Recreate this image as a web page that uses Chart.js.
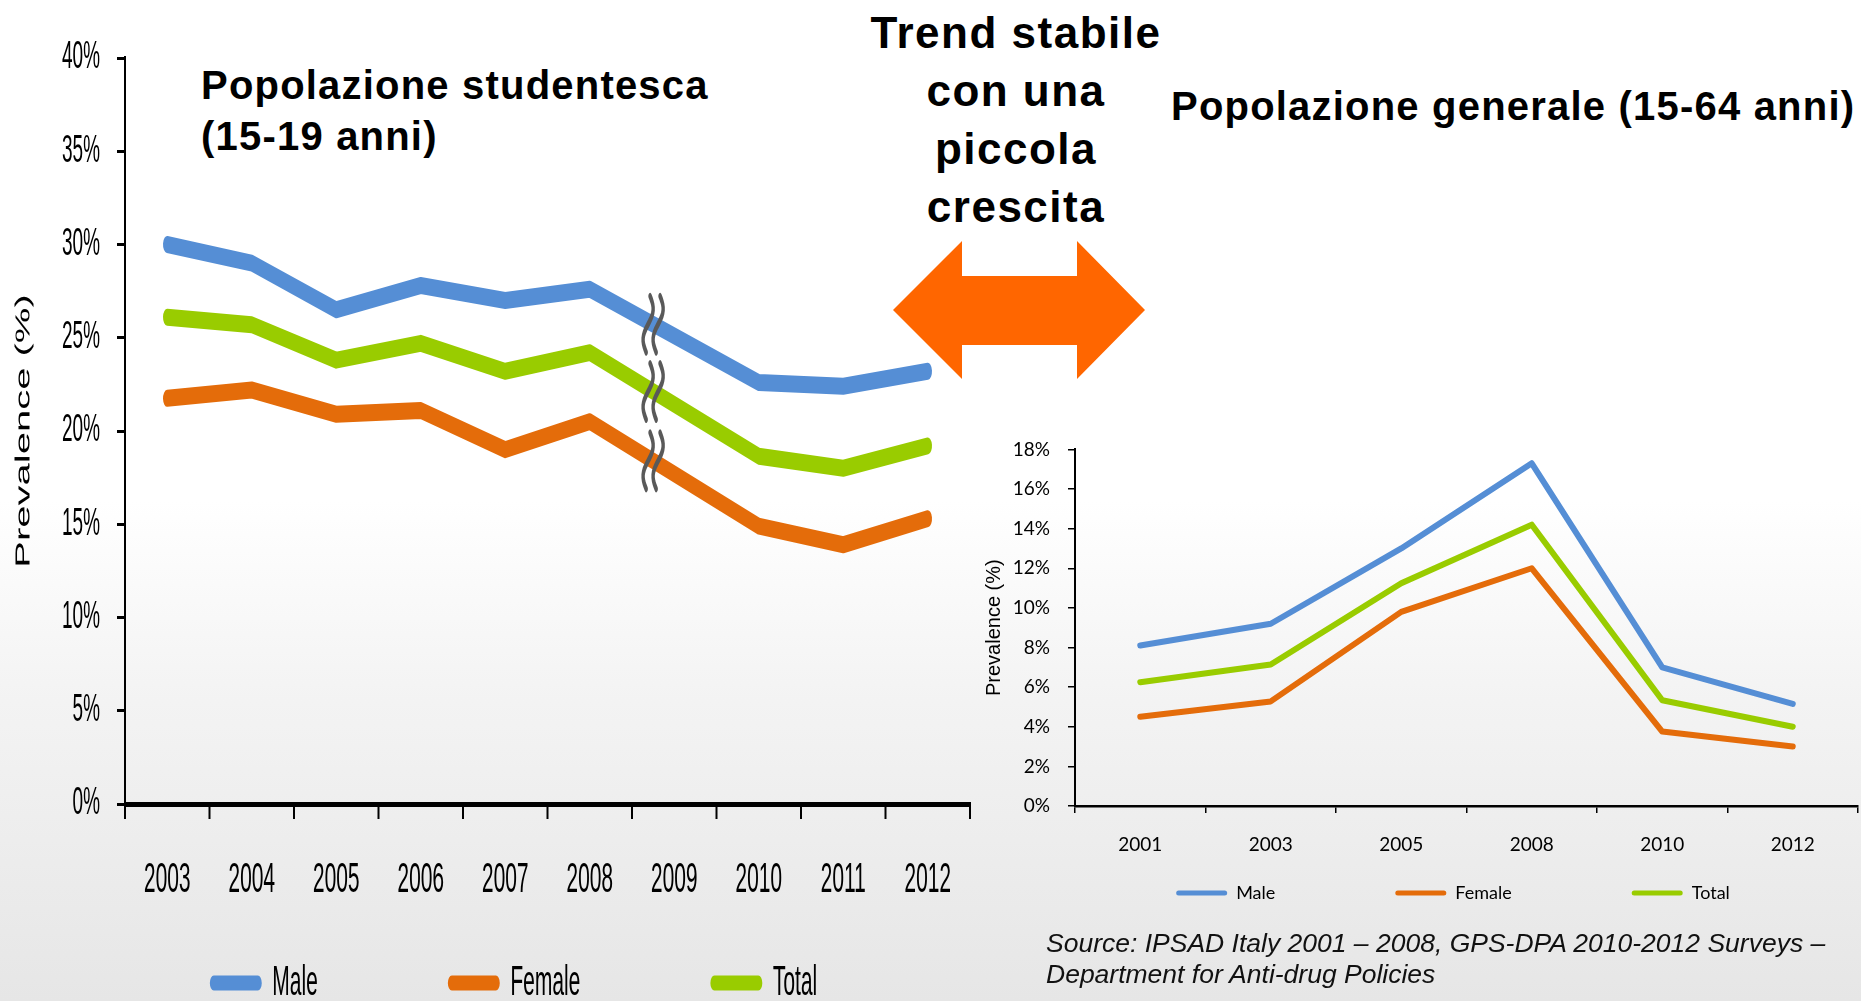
<!DOCTYPE html>
<html>
<head>
<meta charset="utf-8">
<script src="https://cdn.jsdelivr.net/npm/chart.js@4.4.1/dist/chart.umd.min.js"></script>
<style>
  html, body { margin:0; padding:0; width:1861px; height:1001px; overflow:hidden; }
  body { position:relative; background: linear-gradient(180deg, #ffffff 0%, #ffffff 50%, #f3f3f3 70%, #e6e6e6 100%); font-family: "Liberation Sans", Arial, sans-serif; }
  .t { position:absolute; font-weight:bold; color:#000; white-space:nowrap; }
  canvas { position:absolute; }
  #left { transform: scaleY(2); transform-origin: 0 0; }
</style>
</head>
<body>
<div class="t" style="left:201px; top:60px; font-size:40px; line-height:51px; letter-spacing:1.2px;">Popolazione studentesca<br>(15-19 anni)</div>
<div class="t" style="left:816px; top:4px; width:400px; text-align:center; font-size:44px; line-height:58px; letter-spacing:1.5px;">Trend stabile<br>con una<br>piccola<br>crescita</div>
<div class="t" style="left:1171px; top:81px; font-size:40px; line-height:51px; letter-spacing:1.2px;">Popolazione generale (15-64 anni)</div>
<svg style="position:absolute; left:0; top:0;" width="1861" height="1001">
  <polygon points="893,310 962,241 962,276 1077,276 1077,241 1145,310 1077,379 1077,345 962,345 962,379" fill="#FF6600"/>
</svg>
<canvas id="left" width="980" height="618" style="left:0; top:0; width:980px; height:618px;"></canvas>
<canvas id="right" width="901" height="581" style="left:960px; top:420px; width:901px; height:581px;"></canvas>
<div style="position:absolute; left:1046px; top:928px; font-size:26.5px; line-height:31px; font-style:italic; color:#111; white-space:nowrap;">Source: IPSAD Italy 2001 – 2008, GPS-DPA 2010-2012 Surveys –<br>Department for Anti-drug Policies</div>

<script>
// ---------- DATA ----------
const studYears   = ['2003','2004','2005','2006','2007','2008','2009','2010','2011','2012'];
const studMale    = [30.0, 29.0, 26.5, 27.8, 27.0, 27.6, null, 22.6, 22.4, 23.2];
const studFemale  = [21.75, 22.2, 20.9, 21.1, 19.0, 20.5, null, 14.9, 13.9, 15.3];
const studTotal   = [26.1, 25.7, 23.8, 24.7, 23.2, 24.2, null, 18.65, 18.0, 19.2];

const genYears    = ['2001','2003','2005','2008','2010','2012'];
const genMale     = [8.1, 9.2, 13.0, 17.3, 7.0, 5.15];
const genFemale   = [4.5, 5.28, 9.8, 12.0, 3.76, 3.0];
const genTotal    = [6.25, 7.14, 11.24, 14.2, 5.34, 4.0];

const seriesNames = ['Male', 'Female', 'Total'];
const studYTicks  = { min: 0, max: 40, step: 5 };
const genYTicks   = { min: 0, max: 18, step: 2 };
const axisTitle   = 'Prevalence (%)';

// ---------- STYLE ----------
const COL = { male:'#558ED5', female:'#E46C0A', total:'#99CC00' };
const ARIAL = '"Liberation Sans", Arial, sans-serif';
const CAL = 'Lato, "Open Sans", sans-serif';

const legendShift = {
  id: 'legendShift',
  afterLayout(chart, args, opts) {
    const l = chart.legend; if (!l) return;
    l.left += opts.dx; l.right += opts.dx; l.top += opts.dy; l.bottom += opts.dy;
  }
};
function noStrokeLabels(radius) {
  return function(chart) {
    const items = Chart.defaults.plugins.legend.labels.generateLabels(chart);
    items.forEach(it => { it.lineWidth = 0; it.borderRadius = radius; it.fillStyle = it.strokeStyle; });
    return items;
  };
}
function lineDs(label, data, color, width) {
  return { label, data, borderColor: color, backgroundColor: color, borderWidth: width,
           pointRadius: 0, pointHoverRadius: 0, tension: 0, spanGaps: true,
           borderCapStyle: 'round', borderJoinStyle: 'round', fill: false };
}

// ---------- LEFT CHART (drawn in half-height space, stretched 2x vertically) ----------
const L_LEG_FONT = 21, L_LEG_PAD = 130;
const L_LEG_H = L_LEG_FONT + L_LEG_PAD + 10;
const L_X_H = 55;

const breakMarks = {
  id: 'breakMarks',
  afterDatasetsDraw(chart) {
    const x = chart.scales.x, y = chart.scales.y, ctx = chart.ctx;
    const gapIdx = studYears.indexOf('2009');
    const px = x.getPixelForValue(gapIdx - 0.25);
    [studMale, studTotal, studFemale].forEach(arr => {
      const v = arr[gapIdx - 1] + (arr[gapIdx + 1] - arr[gapIdx - 1]) * 0.375;
      const cy = y.getPixelForValue(v);
      ctx.save();
      ctx.strokeStyle = '#595959'; ctx.lineWidth = 3.4; ctx.lineCap = 'round';
      [-5, 5].forEach(o => {
        ctx.beginPath();
        for (let i = 0; i <= 20; i++) {
          const t = i / 20;
          const xx = px + o + 2 - 4 * t + 4 * Math.sin(t * Math.PI * 2);
          const yy = cy - 14 + 28 * t;
          if (i === 0) ctx.moveTo(xx, yy); else ctx.lineTo(xx, yy);
        }
        ctx.stroke();
      });
      ctx.restore();
    });
  }
};

new Chart(document.getElementById('left'), {
  type: 'line',
  data: {
    labels: studYears,
    datasets: [
      lineDs(seriesNames[0], studMale, COL.male, 8.5),
      lineDs(seriesNames[1], studFemale, COL.female, 8.5),
      lineDs(seriesNames[2], studTotal, COL.total, 8.5)
    ]
  },
  plugins: [legendShift, breakMarks],
  options: {
    responsive: false, animation: false, devicePixelRatio: 2,
    layout: { padding: { left: 0, top: 29, right: 10, bottom: 0 } },
    scales: {
      x: {
        offset: true,
        grid: { offset: true, drawOnChartArea: false, tickLength: 7.5, color: '#000', lineWidth: 2 },
        border: { color: '#000', width: 2.5 },
        ticks: { color: '#000', padding: 18, maxRotation: 0, autoSkip: false, font: { family: ARIAL, size: 21 } },
        afterFit(s) { s.height = L_X_H; }
      },
      y: {
        min: studYTicks.min, max: studYTicks.max,
        grid: { drawOnChartArea: false, tickLength: 8, color: '#000', lineWidth: 1.5 },
        border: { color: '#000', width: 2 },
        ticks: { stepSize: studYTicks.step, color: '#000', padding: 17, callback: v => v + '%',
                 font: { family: ARIAL, size: 19 } },
        title: { display: true, text: axisTitle, color: '#000', padding: { top: 12, bottom: 0 },
                 font: { family: ARIAL, size: 20 } },
        afterFit(s) { s.width = 125; }
      }
    },
    plugins: {
      legendShift: { dx: 28.5, dy: -106 },
      tooltip: { enabled: false },
      legend: {
        position: 'bottom',
        labels: { boxWidth: 52, boxHeight: 7.5, padding: L_LEG_PAD, color: '#000',
                  font: { family: ARIAL, size: L_LEG_FONT },
                  generateLabels: noStrokeLabels(4) }
      }
    }
  }
});

// ---------- RIGHT CHART ----------
const R_LEG_FONT = 18, R_LEG_PAD = 120;
const R_LEG_H = R_LEG_FONT + R_LEG_PAD + 10;
const R_BOTTOM = 386;

new Chart(document.getElementById('right'), {
  type: 'line',
  data: {
    labels: genYears,
    datasets: [
      lineDs(seriesNames[0], genMale, COL.male, 6),
      lineDs(seriesNames[1], genFemale, COL.female, 6),
      lineDs(seriesNames[2], genTotal, COL.total, 6)
    ]
  },
  plugins: [legendShift],
  options: {
    responsive: false, animation: false, devicePixelRatio: 1,
    layout: { padding: { left: 0, top: 27, right: 3, bottom: 0 } },
    elements: { line: { borderJoinStyle: 'miter', borderCapStyle: 'butt' } },
    scales: {
      x: {
        offset: true,
        grid: { offset: true, drawOnChartArea: false, tickLength: 7, color: '#000', lineWidth: 1.5 },
        border: { color: '#000', width: 2.5 },
        ticks: { color: '#000', padding: 20, maxRotation: 0, font: { family: CAL, size: 19 } },
        afterFit(s) { s.height = 581 - R_BOTTOM - R_LEG_H; }
      },
      y: {
        min: genYTicks.min, max: genYTicks.max,
        grid: { drawOnChartArea: false, tickLength: 7, color: '#000', lineWidth: 1.5 },
        border: { color: '#000', width: 2 },
        ticks: { stepSize: genYTicks.step, color: '#000', padding: 18, callback: v => v + '%',
                 font: { family: CAL, size: 19 } },
        title: { display: true, text: axisTitle, color: '#000', padding: { top: 22, bottom: 0 },
                 font: { family: ARIAL, size: 20 } },
        afterFit(s) { s.width = 115; }
      }
    },
    plugins: {
      legendShift: { dx: 44, dy: -89 },
      tooltip: { enabled: false },
      legend: {
        position: 'bottom',
        labels: { boxWidth: 51, boxHeight: 5, padding: R_LEG_PAD, color: '#000',
                  font: { family: CAL, size: R_LEG_FONT },
                  generateLabels: noStrokeLabels(2.5) }
      }
    }
  }
});
</script>
</body>
</html>
